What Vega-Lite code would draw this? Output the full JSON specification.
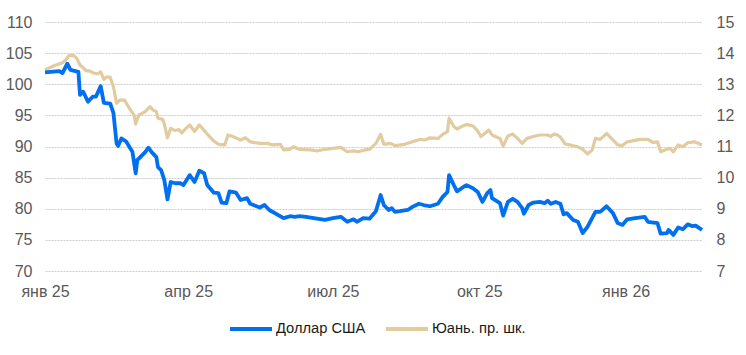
{
  "$schema": "https://vega.github.io/schema/vega-lite/v6.json",
  "width": 657,
  "height": 249,
  "autosize": {"type": "none"},
  "padding": {"left": 45, "top": 22, "right": 44, "bottom": 84},
  "background": "white",
  "config": {
    "view": {"stroke": null},
    "font": "Liberation Sans",
    "axis": {"labelFont": "Liberation Sans", "labelFontSize": 16, "labelColor": "#595959", "ticks": false, "domain": false, "title": null}
  },
  "datasets": {
    "usd": [
      {"date": "2025-01-01", "value": 101.9},
      {"date": "2025-01-10", "value": 102.1},
      {"date": "2025-01-12", "value": 101.8},
      {"date": "2025-01-15", "value": 103.3},
      {"date": "2025-01-17", "value": 102.3},
      {"date": "2025-01-22", "value": 102.0},
      {"date": "2025-01-23", "value": 98.3},
      {"date": "2025-01-25", "value": 98.8},
      {"date": "2025-01-28", "value": 97.2},
      {"date": "2025-01-31", "value": 98.0},
      {"date": "2025-02-02", "value": 98.0},
      {"date": "2025-02-05", "value": 99.7},
      {"date": "2025-02-07", "value": 97.0},
      {"date": "2025-02-11", "value": 96.9},
      {"date": "2025-02-13", "value": 95.4},
      {"date": "2025-02-15", "value": 90.5},
      {"date": "2025-02-16", "value": 90.1},
      {"date": "2025-02-18", "value": 91.3},
      {"date": "2025-02-21", "value": 90.8},
      {"date": "2025-02-25", "value": 89.1},
      {"date": "2025-02-27", "value": 85.7},
      {"date": "2025-02-28", "value": 87.8},
      {"date": "2025-03-05", "value": 89.1},
      {"date": "2025-03-07", "value": 89.8},
      {"date": "2025-03-09", "value": 89.1},
      {"date": "2025-03-12", "value": 88.3},
      {"date": "2025-03-13", "value": 86.7},
      {"date": "2025-03-15", "value": 86.2},
      {"date": "2025-03-17", "value": 84.6},
      {"date": "2025-03-19", "value": 81.5},
      {"date": "2025-03-21", "value": 84.3},
      {"date": "2025-03-24", "value": 84.1},
      {"date": "2025-03-27", "value": 84.1},
      {"date": "2025-03-29", "value": 83.8},
      {"date": "2025-04-02", "value": 85.4},
      {"date": "2025-04-05", "value": 84.3},
      {"date": "2025-04-08", "value": 86.1},
      {"date": "2025-04-11", "value": 85.7},
      {"date": "2025-04-13", "value": 83.8},
      {"date": "2025-04-17", "value": 82.6},
      {"date": "2025-04-20", "value": 82.5},
      {"date": "2025-04-22", "value": 81.0},
      {"date": "2025-04-25", "value": 80.9},
      {"date": "2025-04-27", "value": 82.8},
      {"date": "2025-05-01", "value": 82.6},
      {"date": "2025-05-04", "value": 81.4},
      {"date": "2025-05-08", "value": 81.7},
      {"date": "2025-05-10", "value": 80.8},
      {"date": "2025-05-16", "value": 80.2},
      {"date": "2025-05-19", "value": 80.6},
      {"date": "2025-05-22", "value": 79.8},
      {"date": "2025-05-31", "value": 78.5},
      {"date": "2025-06-04", "value": 78.8},
      {"date": "2025-06-07", "value": 78.7},
      {"date": "2025-06-10", "value": 78.8},
      {"date": "2025-06-14", "value": 78.7},
      {"date": "2025-06-19", "value": 78.5},
      {"date": "2025-06-26", "value": 78.2},
      {"date": "2025-07-01", "value": 78.5},
      {"date": "2025-07-06", "value": 78.7},
      {"date": "2025-07-10", "value": 77.9},
      {"date": "2025-07-14", "value": 78.3},
      {"date": "2025-07-16", "value": 77.9},
      {"date": "2025-07-20", "value": 78.5},
      {"date": "2025-07-24", "value": 78.4},
      {"date": "2025-07-28", "value": 79.6},
      {"date": "2025-07-31", "value": 82.2},
      {"date": "2025-08-02", "value": 80.6},
      {"date": "2025-08-05", "value": 79.8},
      {"date": "2025-08-07", "value": 80.1},
      {"date": "2025-08-09", "value": 79.5},
      {"date": "2025-08-12", "value": 79.6},
      {"date": "2025-08-17", "value": 79.8},
      {"date": "2025-08-20", "value": 80.3},
      {"date": "2025-08-24", "value": 80.8},
      {"date": "2025-08-27", "value": 80.6},
      {"date": "2025-08-31", "value": 80.4},
      {"date": "2025-09-05", "value": 80.8},
      {"date": "2025-09-08", "value": 81.9},
      {"date": "2025-09-11", "value": 82.7},
      {"date": "2025-09-12", "value": 85.4},
      {"date": "2025-09-15", "value": 83.8},
      {"date": "2025-09-17", "value": 82.8},
      {"date": "2025-09-21", "value": 83.5},
      {"date": "2025-09-23", "value": 83.8},
      {"date": "2025-09-27", "value": 83.3},
      {"date": "2025-09-30", "value": 82.7},
      {"date": "2025-10-03", "value": 81.1},
      {"date": "2025-10-06", "value": 82.5},
      {"date": "2025-10-08", "value": 83.0},
      {"date": "2025-10-09", "value": 81.7},
      {"date": "2025-10-14", "value": 80.9},
      {"date": "2025-10-16", "value": 78.9},
      {"date": "2025-10-19", "value": 81.1},
      {"date": "2025-10-22", "value": 81.6},
      {"date": "2025-10-25", "value": 81.1},
      {"date": "2025-10-28", "value": 80.1},
      {"date": "2025-10-29", "value": 79.2},
      {"date": "2025-11-01", "value": 80.6},
      {"date": "2025-11-04", "value": 81.0},
      {"date": "2025-11-08", "value": 81.1},
      {"date": "2025-11-11", "value": 80.9},
      {"date": "2025-11-13", "value": 81.3},
      {"date": "2025-11-15", "value": 80.8},
      {"date": "2025-11-18", "value": 81.1},
      {"date": "2025-11-21", "value": 80.8},
      {"date": "2025-11-23", "value": 79.1},
      {"date": "2025-11-25", "value": 79.3},
      {"date": "2025-11-29", "value": 78.2},
      {"date": "2025-12-02", "value": 77.9},
      {"date": "2025-12-05", "value": 76.1},
      {"date": "2025-12-08", "value": 77.1},
      {"date": "2025-12-13", "value": 79.5},
      {"date": "2025-12-16", "value": 79.5},
      {"date": "2025-12-20", "value": 80.4},
      {"date": "2025-12-24", "value": 79.3},
      {"date": "2025-12-27", "value": 77.7},
      {"date": "2025-12-30", "value": 77.4},
      {"date": "2026-01-02", "value": 78.3},
      {"date": "2026-01-07", "value": 78.5},
      {"date": "2026-01-13", "value": 78.7},
      {"date": "2026-01-15", "value": 77.9},
      {"date": "2026-01-21", "value": 77.7},
      {"date": "2026-01-23", "value": 76.0},
      {"date": "2026-01-27", "value": 76.1},
      {"date": "2026-01-28", "value": 76.6},
      {"date": "2026-01-31", "value": 75.8},
      {"date": "2026-02-03", "value": 77.0},
      {"date": "2026-02-06", "value": 76.7},
      {"date": "2026-02-09", "value": 77.5},
      {"date": "2026-02-12", "value": 77.2},
      {"date": "2026-02-14", "value": 77.3},
      {"date": "2026-02-18", "value": 76.6}
    ],
    "cny": [
      {"date": "2025-01-01", "value": 13.46},
      {"date": "2025-01-07", "value": 13.6},
      {"date": "2025-01-12", "value": 13.69},
      {"date": "2025-01-14", "value": 13.78},
      {"date": "2025-01-16", "value": 13.92},
      {"date": "2025-01-19", "value": 13.92},
      {"date": "2025-01-21", "value": 13.83},
      {"date": "2025-01-23", "value": 13.62},
      {"date": "2025-01-25", "value": 13.53},
      {"date": "2025-01-27", "value": 13.43},
      {"date": "2025-01-29", "value": 13.43},
      {"date": "2025-01-31", "value": 13.37},
      {"date": "2025-02-03", "value": 13.33},
      {"date": "2025-02-05", "value": 13.4},
      {"date": "2025-02-07", "value": 13.16},
      {"date": "2025-02-09", "value": 13.24},
      {"date": "2025-02-11", "value": 13.22},
      {"date": "2025-02-13", "value": 12.92},
      {"date": "2025-02-15", "value": 12.39},
      {"date": "2025-02-17", "value": 12.49},
      {"date": "2025-02-20", "value": 12.49},
      {"date": "2025-02-23", "value": 12.23},
      {"date": "2025-02-26", "value": 12.01},
      {"date": "2025-02-27", "value": 11.72},
      {"date": "2025-03-01", "value": 12.01},
      {"date": "2025-03-05", "value": 12.12},
      {"date": "2025-03-08", "value": 12.28},
      {"date": "2025-03-10", "value": 12.17},
      {"date": "2025-03-12", "value": 12.12},
      {"date": "2025-03-13", "value": 11.91},
      {"date": "2025-03-16", "value": 11.87},
      {"date": "2025-03-17", "value": 11.72},
      {"date": "2025-03-19", "value": 11.28},
      {"date": "2025-03-21", "value": 11.58},
      {"date": "2025-03-24", "value": 11.51},
      {"date": "2025-03-26", "value": 11.55},
      {"date": "2025-03-28", "value": 11.44},
      {"date": "2025-03-30", "value": 11.55},
      {"date": "2025-04-02", "value": 11.69},
      {"date": "2025-04-05", "value": 11.48},
      {"date": "2025-04-08", "value": 11.69},
      {"date": "2025-04-10", "value": 11.58},
      {"date": "2025-04-13", "value": 11.4},
      {"date": "2025-04-17", "value": 11.18},
      {"date": "2025-04-20", "value": 11.07},
      {"date": "2025-04-24", "value": 11.05},
      {"date": "2025-04-26", "value": 11.37},
      {"date": "2025-04-29", "value": 11.32},
      {"date": "2025-05-04", "value": 11.21},
      {"date": "2025-05-07", "value": 11.28},
      {"date": "2025-05-10", "value": 11.15},
      {"date": "2025-05-16", "value": 11.1},
      {"date": "2025-05-21", "value": 11.1},
      {"date": "2025-05-24", "value": 11.05},
      {"date": "2025-05-29", "value": 11.07},
      {"date": "2025-05-31", "value": 10.89},
      {"date": "2025-06-04", "value": 10.91},
      {"date": "2025-06-06", "value": 10.99},
      {"date": "2025-06-10", "value": 10.91},
      {"date": "2025-06-17", "value": 10.89},
      {"date": "2025-06-21", "value": 10.86},
      {"date": "2025-06-26", "value": 10.91},
      {"date": "2025-07-01", "value": 10.94},
      {"date": "2025-07-06", "value": 10.97},
      {"date": "2025-07-10", "value": 10.83},
      {"date": "2025-07-14", "value": 10.86},
      {"date": "2025-07-17", "value": 10.83},
      {"date": "2025-07-21", "value": 10.89},
      {"date": "2025-07-24", "value": 10.91},
      {"date": "2025-07-28", "value": 11.1},
      {"date": "2025-07-31", "value": 11.39},
      {"date": "2025-08-02", "value": 11.07},
      {"date": "2025-08-06", "value": 11.1},
      {"date": "2025-08-09", "value": 11.03},
      {"date": "2025-08-15", "value": 11.07},
      {"date": "2025-08-20", "value": 11.15},
      {"date": "2025-08-25", "value": 11.23},
      {"date": "2025-08-28", "value": 11.21},
      {"date": "2025-08-31", "value": 11.28},
      {"date": "2025-09-05", "value": 11.26},
      {"date": "2025-09-08", "value": 11.39},
      {"date": "2025-09-11", "value": 11.48},
      {"date": "2025-09-12", "value": 11.91},
      {"date": "2025-09-15", "value": 11.64},
      {"date": "2025-09-17", "value": 11.56},
      {"date": "2025-09-21", "value": 11.67},
      {"date": "2025-09-23", "value": 11.71},
      {"date": "2025-09-27", "value": 11.66},
      {"date": "2025-09-30", "value": 11.5},
      {"date": "2025-10-02", "value": 11.32},
      {"date": "2025-10-05", "value": 11.44},
      {"date": "2025-10-07", "value": 11.53},
      {"date": "2025-10-09", "value": 11.37},
      {"date": "2025-10-14", "value": 11.26},
      {"date": "2025-10-16", "value": 11.01},
      {"date": "2025-10-19", "value": 11.34},
      {"date": "2025-10-22", "value": 11.4},
      {"date": "2025-10-25", "value": 11.26},
      {"date": "2025-10-28", "value": 11.1},
      {"date": "2025-10-31", "value": 11.26},
      {"date": "2025-11-04", "value": 11.32},
      {"date": "2025-11-08", "value": 11.37},
      {"date": "2025-11-13", "value": 11.37},
      {"date": "2025-11-15", "value": 11.32},
      {"date": "2025-11-17", "value": 11.4},
      {"date": "2025-11-19", "value": 11.37},
      {"date": "2025-11-21", "value": 11.3},
      {"date": "2025-11-24", "value": 11.08},
      {"date": "2025-11-27", "value": 11.05},
      {"date": "2025-12-02", "value": 10.99},
      {"date": "2025-12-05", "value": 10.91},
      {"date": "2025-12-08", "value": 10.76},
      {"date": "2025-12-11", "value": 10.89},
      {"date": "2025-12-13", "value": 11.26},
      {"date": "2025-12-16", "value": 11.23},
      {"date": "2025-12-18", "value": 11.32},
      {"date": "2025-12-20", "value": 11.42},
      {"date": "2025-12-24", "value": 11.21},
      {"date": "2025-12-27", "value": 11.05},
      {"date": "2025-12-30", "value": 11.03},
      {"date": "2026-01-02", "value": 11.15},
      {"date": "2026-01-10", "value": 11.23},
      {"date": "2026-01-15", "value": 11.23},
      {"date": "2026-01-18", "value": 11.13},
      {"date": "2026-01-21", "value": 11.15},
      {"date": "2026-01-23", "value": 10.83},
      {"date": "2026-01-27", "value": 10.91},
      {"date": "2026-01-29", "value": 10.94},
      {"date": "2026-01-31", "value": 10.83},
      {"date": "2026-02-03", "value": 11.05},
      {"date": "2026-02-06", "value": 10.99},
      {"date": "2026-02-09", "value": 11.12},
      {"date": "2026-02-13", "value": 11.15},
      {"date": "2026-02-15", "value": 11.12},
      {"date": "2026-02-18", "value": 11.05}
    ]
  },
  "layer": [
    {
      "data": {"name": "cny"},
      "mark": {"type": "line", "strokeWidth": 3.2, "strokeJoin": "round"},
      "encoding": {
        "x": {
          "field": "date", "type": "temporal",
          "scale": {"type": "utc", "domain": [{"year": 2025, "month": 1, "date": 1, "utc": true}, {"year": 2026, "month": 2, "date": 18, "utc": true}]},
          "axis": {
            "grid": false, "labelFlush": false, "labelPadding": 12,
            "values": [{"year": 2025, "month": 1, "date": 1, "utc": true}, {"year": 2025, "month": 4, "date": 1, "utc": true}, {"year": 2025, "month": 7, "date": 1, "utc": true}, {"year": 2025, "month": 10, "date": 1, "utc": true}, {"year": 2026, "month": 1, "date": 1, "utc": true}],
            "labelExpr": "['янв','фев','мар','апр','май','июн','июл','авг','сен','окт','ноя','дек'][utcmonth(datum.value)] + ' ' + utcFormat(datum.value, '%y')"
          }
        },
        "y": {
          "field": "value", "type": "quantitative",
          "scale": {"domain": [7, 15], "nice": false, "zero": false},
          "axis": {"orient": "right", "values": [7, 8, 9, 10, 11, 12, 13, 14, 15], "grid": false, "labelPadding": 14}
        },
        "color": {
          "datum": "Юань. пр. шк.", "type": "nominal",
          "scale": {"domain": ["Доллар США", "Юань. пр. шк."], "range": ["#0070F0", "#E2CC9F"]},
          "legend": {
            "title": null, "orient": "none", "direction": "horizontal", "legendX": 183, "legendY": 284,
            "symbolType": "stroke", "symbolSize": 1764, "symbolStrokeWidth": 4,
            "labelFont": "Liberation Sans", "labelFontSize": 14.7, "labelColor": "#1a1a1a", "labelOffset": 2, "columnPadding": 12
          }
        }
      }
    },
    {
      "data": {"name": "usd"},
      "mark": {"type": "line", "strokeWidth": 3.8, "strokeJoin": "round"},
      "encoding": {
        "x": {"field": "date", "type": "temporal"},
        "y": {
          "field": "value", "type": "quantitative",
          "scale": {"domain": [70, 110], "nice": false, "zero": false},
          "axis": {"orient": "left", "values": [70, 75, 80, 85, 90, 95, 100, 105, 110], "grid": true, "gridColor": "#CCCCCC", "gridDash": [2, 1], "gridWidth": 1, "labelPadding": 13}
        },
        "color": {"datum": "Доллар США", "type": "nominal"}
      }
    }
  ],
  "resolve": {"scale": {"y": "independent"}}
}
